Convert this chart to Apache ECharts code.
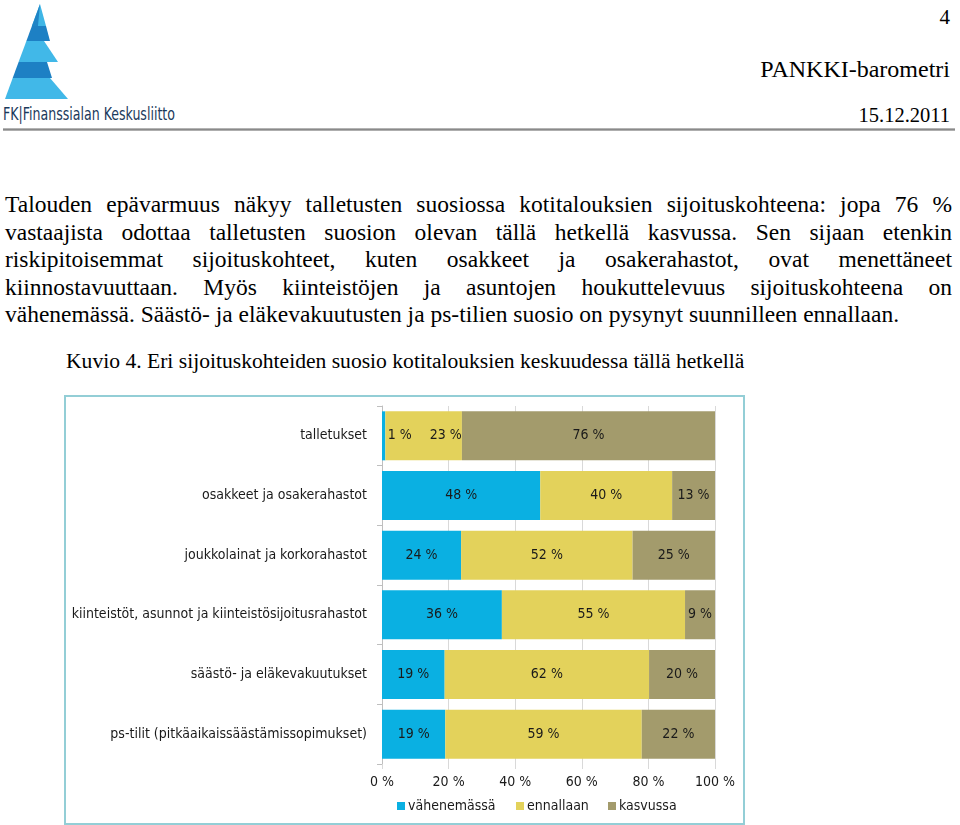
<!DOCTYPE html>
<html>
<head>
<meta charset="utf-8">
<script src="https://cdn.jsdelivr.net/npm/echarts@6/dist/echarts.min.js"></script>
<style>
  html, body { margin: 0; padding: 0; background: #fff; width: 960px; height: 825px; overflow: hidden; }
  body { position: relative; font-family: "Liberation Serif", "Times New Roman", serif; color: #000; }
  #logo { position: absolute; left: 0; top: 0; }
  .hdr { position: absolute; right: 10px; text-align: right; white-space: nowrap; font-family: "Liberation Serif", serif; }
  #rule { position: absolute; left: 3px; top: 128px; width: 952px; height: 3px;
          background: linear-gradient(to bottom, #c8c8c8, #8a8a8a, #c0c0c0); }
  #para { position: absolute; left: 5px; top: 191px; width: 947px; font-family: "Liberation Serif", serif;
          font-size: 23.5px; line-height: 27.5px; }
  #para .j { text-align: justify; text-align-last: justify; white-space: nowrap; }
  #para .l { text-align: left; white-space: nowrap; }
  #caption { position: absolute; left: 66px; top: 349px; font-family: "Liberation Serif", serif; font-size: 21.6px; white-space: nowrap; }
  #chartbox { position: absolute; left: 64px; top: 395px; width: 677px; height: 426px; border: 2px solid #93ced6; }
  #chart { width: 677px; height: 426px; }
</style>
</head>
<body>
<svg id="logo" width="200" height="125" viewBox="0 0 200 125">
  <polygon points="40,4 46,26 31.9,26" fill="#3fb6e6"/>
  <polygon points="40,4 38,26 31.9,26" fill="#1f84c6"/>
  <polygon points="31.9,26 46,26 50,41 26.4,41" fill="#1d80c4"/>
  <polygon points="26.4,41 44,41 58,62 18.6,62" fill="#41b8e8"/>
  <polygon points="18.6,62 47,62 52,78 12.7,78" fill="#1d80c4"/>
  <polygon points="12.7,78 50,78 68,99 5,99" fill="#41b8e8"/>
  <text x="3" y="120" textLength="172" lengthAdjust="spacingAndGlyphs"
        font-family="DejaVu Sans Condensed, Liberation Sans, sans-serif" font-size="17" fill="#1b3a5c">FK|Finanssialan Keskusliitto</text>
</svg>
<div class="hdr" style="top:5px;font-size:21px;">4</div>
<div class="hdr" style="top:56px;font-size:24px;">PANKKI-barometri</div>
<div class="hdr" style="top:104px;font-size:20.5px;">15.12.2011</div>
<div id="rule"></div>
<div id="para">
  <div class="j">Talouden epävarmuus näkyy talletusten suosiossa kotitalouksien sijoituskohteena: jopa 76 %</div>
  <div class="j">vastaajista odottaa talletusten suosion olevan tällä hetkellä kasvussa. Sen sijaan etenkin</div>
  <div class="j">riskipitoisemmat sijoituskohteet, kuten osakkeet ja osakerahastot, ovat menettäneet</div>
  <div class="j">kiinnostavuuttaan. Myös kiinteistöjen ja asuntojen houkuttelevuus sijoituskohteena on</div>
  <div class="l">vähenemässä. Säästö- ja eläkevakuutusten ja ps-tilien suosio on pysynyt suunnilleen ennallaan.</div>
</div>
<div id="caption">Kuvio 4. Eri sijoituskohteiden suosio kotitalouksien keskuudessa tällä hetkellä</div>
<div id="chartbox"><div id="chart"></div></div>
<script>
const categories = [
  'talletukset',
  'osakkeet ja osakerahastot',
  'joukkolainat ja korkorahastot',
  'kiinteistöt, asunnot ja kiinteistösijoitusrahastot',
  'säästö- ja eläkevakuutukset',
  'ps-tilit (pitkäaikaissäästämissopimukset)'
];
const seriesNames = ['vähenemässä', 'ennallaan', 'kasvussa'];
const vahenemassa = [1, 48, 24, 36, 19, 19];
const ennallaan = [23, 40, 52, 55, 62, 59];
const kasvussa = [76, 13, 25, 9, 20, 22];
const xTicks = [0, 20, 40, 60, 80, 100];

const raw = [vahenemassa, ennallaan, kasvussa];
const colors = ['#0ab0e2', '#e3d25b', '#a39b6c'];
const totals = categories.map((c, i) => raw[0][i] + raw[1][i] + raw[2][i]);
// label nudges (Excel moved the two crowded labels on the first row)
const labelNudge = { '0-0': [16, 0], '1-0': [22, 0] };
const legendLeft = [331, 450, 542];

const FONT = '"DejaVu Sans Condensed", "DejaVu Sans", sans-serif';
const FS = 14;
const chart = echarts.init(document.getElementById('chart'), null, { renderer: 'canvas' });
const series = raw.map((arr, s) => ({
  name: seriesNames[s],
  type: 'bar',
  stack: 'total',
  barWidth: 49,
  itemStyle: { color: colors[s] },
  label: {
    show: true,
    position: 'inside',
    color: '#1a1a1a',
    fontFamily: FONT,
    fontSize: FS,
    formatter: p => raw[s][p.dataIndex] + ' %'
  },
  data: arr.map((v, i) => {
    const item = { value: v / totals[i] * 100 };
    const k = s + '-' + i;
    if (labelNudge[k]) item.label = { offset: labelNudge[k] };
    return item;
  })
}));

chart.setOption({
  animation: false,
  textStyle: { fontFamily: FONT },
  grid: { left: 316, right: 28, top: 9, height: 358 },
  legend: seriesNames.map((n, s) => ({
    left: legendLeft[s], top: 402, padding: 0,
    icon: 'rect', itemWidth: 8, itemHeight: 8,
    textStyle: { fontFamily: FONT, fontSize: FS, color: '#1a1a1a', padding: [0, 0, 0, -2] },
    data: [n]
  })),
  xAxis: {
    type: 'value', min: xTicks[0], max: xTicks[xTicks.length - 1], interval: 20,
    axisLabel: { formatter: '{value} %', fontFamily: FONT, fontSize: FS, color: '#1a1a1a', margin: 11 },
    axisLine: { show: false },
    axisTick: { show: true, length: 5, lineStyle: { color: '#d9d9d9' } },
    splitLine: { show: true, lineStyle: { color: '#d9d9d9', width: 1 } }
  },
  yAxis: {
    type: 'category', inverse: true, data: categories,
    axisLabel: { fontFamily: FONT, fontSize: FS, color: '#1a1a1a', margin: 15 },
    axisLine: { show: true, lineStyle: { color: '#bfbfbf' } },
    axisTick: { show: true, length: 5, lineStyle: { color: '#bfbfbf' } }
  },
  series: series
});
</script>
</body>
</html>
